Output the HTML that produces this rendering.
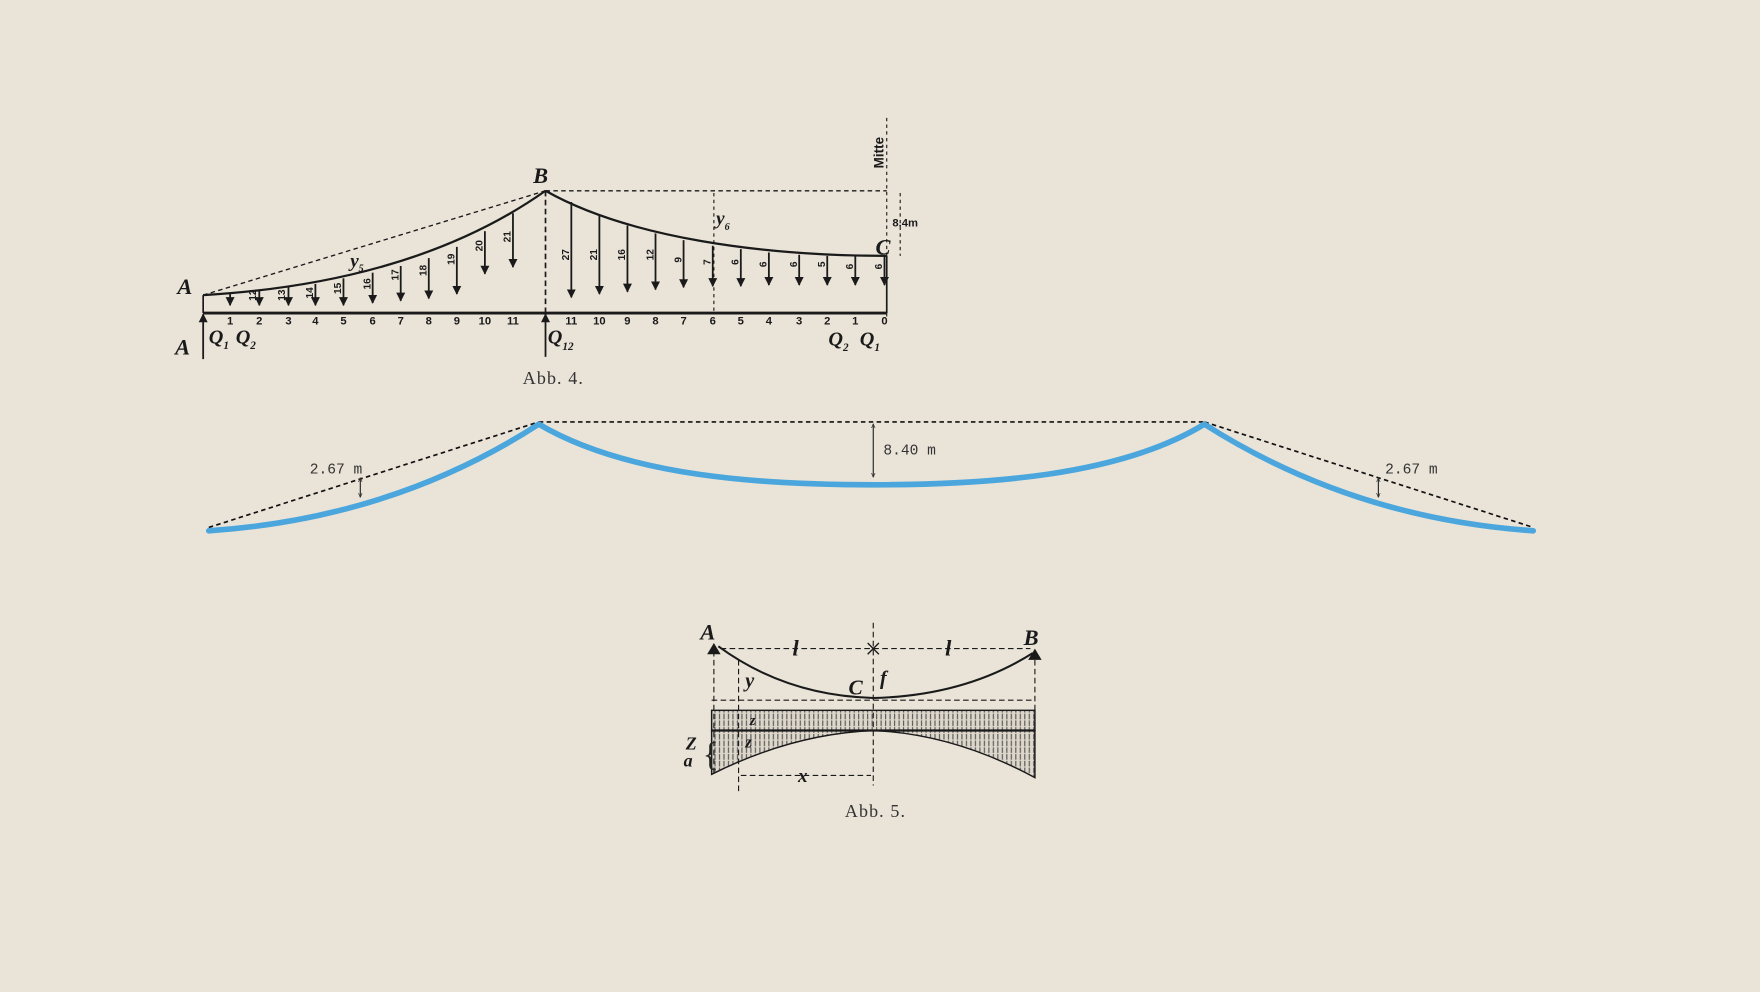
<!DOCTYPE html>
<html><head><meta charset="utf-8"><style>
html,body{margin:0;padding:0;background:#e9e3d8;}
svg{display:block}
.s{font-family:"Liberation Serif",serif;font-style:italic;font-weight:bold;fill:#1a1a1a}
.n{font-family:"Liberation Sans",sans-serif;font-weight:bold;fill:#1a1a1a}
.m{font-family:"Liberation Mono",monospace;fill:#333}
</style></head><body>
<svg width="1760" height="992" viewBox="0 0 1568 884" preserveAspectRatio="none" xmlns="http://www.w3.org/2000/svg">
<defs>
<marker id="ah" viewBox="0 0 10 10" refX="9" refY="5" markerWidth="5" markerHeight="6" orient="auto-start-reverse"><path d="M0,0 L10,5 L0,10 z" fill="#1a1a1a"/></marker>
<marker id="sa" viewBox="0 0 10 10" refX="9" refY="5" markerWidth="4" markerHeight="4" orient="auto-start-reverse"><path d="M0,1 L10,5 L0,9" fill="none" stroke="#333" stroke-width="1.5"/></marker>
<pattern id="hatch" width="4" height="6" patternUnits="userSpaceOnUse"><rect width="4" height="6" fill="#ddd6ca"/><line x1="1" y1="0" x2="1" y2="5" stroke="#555" stroke-width="1"/></pattern>
</defs>
<rect width="1568" height="884" fill="#e9e3d8"/>

<!-- Abb 4 -->
<g stroke="#1a1a1a" fill="none">
<line x1="790" y1="105" x2="790" y2="282" stroke-dasharray="3,3" stroke-width="1"/>
<line x1="486" y1="170" x2="790" y2="170" stroke-dasharray="4,3" stroke-width="1.2"/>
<line x1="181" y1="263" x2="486" y2="170" stroke-dasharray="4,3" stroke-width="1.2"/>
<line x1="486" y1="170" x2="486" y2="280" stroke-dasharray="5,3" stroke-width="1.5"/>
<path d="M181,263 Q370,252 486,170" stroke-width="2"/>
<path d="M486,170 C560,212 680,228 790,228" stroke-width="2"/>
<line x1="181" y1="279" x2="790" y2="279" stroke-width="2.5"/>
<line x1="181" y1="263" x2="181" y2="279" stroke-width="1.5"/>
<line x1="790" y1="228" x2="790" y2="279" stroke-width="1.5"/>
<line x1="636" y1="172" x2="636" y2="279" stroke-dasharray="3,3" stroke-width="1"/>
<line x1="802" y1="172" x2="802" y2="228" stroke-dasharray="3,3" stroke-width="1"/>
<g stroke-width="1.6" marker-end="url(#ah)">
<line x1="205" y1="262" x2="205" y2="272"/>
<line x1="231" y1="259" x2="231" y2="272"/>
<line x1="257" y1="256" x2="257" y2="272"/>
<line x1="281" y1="253" x2="281" y2="272"/>
<line x1="306" y1="248" x2="306" y2="272"/>
<line x1="332" y1="243" x2="332" y2="270"/>
<line x1="357" y1="237" x2="357" y2="268"/>
<line x1="382" y1="230" x2="382" y2="266"/>
<line x1="407" y1="220" x2="407" y2="262"/>
<line x1="432" y1="206" x2="432" y2="244"/>
<line x1="457" y1="190" x2="457" y2="238"/>
<line x1="509" y1="180" x2="509" y2="265"/>
<line x1="534" y1="192" x2="534" y2="262"/>
<line x1="559" y1="201" x2="559" y2="260"/>
<line x1="584" y1="208" x2="584" y2="258"/>
<line x1="609" y1="214" x2="609" y2="256"/>
<line x1="635" y1="219" x2="635" y2="255"/>
<line x1="660" y1="222" x2="660" y2="255"/>
<line x1="685" y1="225" x2="685" y2="254"/>
<line x1="712" y1="227" x2="712" y2="254"/>
<line x1="737" y1="228" x2="737" y2="254"/>
<line x1="762" y1="228" x2="762" y2="254"/>
<line x1="788" y1="228" x2="788" y2="254"/>
<line x1="181" y1="320" x2="181" y2="280"/>
<line x1="486" y1="318" x2="486" y2="280"/>
</g>
</g>
<g class="n" font-size="10" text-anchor="middle">
<text x="205" y="289">1</text><text x="231" y="289">2</text><text x="257" y="289">3</text><text x="281" y="289">4</text><text x="306" y="289">5</text><text x="332" y="289">6</text><text x="357" y="289">7</text><text x="382" y="289">8</text><text x="407" y="289">9</text><text x="432" y="289">10</text><text x="457" y="289">11</text>
<text x="509" y="289">11</text><text x="534" y="289">10</text><text x="559" y="289">9</text><text x="584" y="289">8</text><text x="609" y="289">7</text><text x="635" y="289">6</text><text x="660" y="289">5</text><text x="685" y="289">4</text><text x="712" y="289">3</text><text x="737" y="289">2</text><text x="762" y="289">1</text><text x="788" y="289">0</text>
</g>
<g class="n" font-size="9">
<text transform="translate(228,268) rotate(-90)">12</text>
<text transform="translate(254,268) rotate(-90)">13</text>
<text transform="translate(279,266) rotate(-90)">14</text>
<text transform="translate(304,262) rotate(-90)">15</text>
<text transform="translate(330,258) rotate(-90)">16</text>
<text transform="translate(355,250) rotate(-90)">17</text>
<text transform="translate(380,246) rotate(-90)">18</text>
<text transform="translate(405,236) rotate(-90)">19</text>
<text transform="translate(430,224) rotate(-90)">20</text>
<text transform="translate(455,216) rotate(-90)">21</text>
<text transform="translate(507,232) rotate(-90)">27</text>
<text transform="translate(532,232) rotate(-90)">21</text>
<text transform="translate(557,232) rotate(-90)">16</text>
<text transform="translate(582,232) rotate(-90)">12</text>
<text transform="translate(607,234) rotate(-90)">9</text>
<text transform="translate(633,236) rotate(-90)">7</text>
<text transform="translate(658,236) rotate(-90)">6</text>
<text transform="translate(683,238) rotate(-90)">6</text>
<text transform="translate(710,238) rotate(-90)">6</text>
<text transform="translate(735,238) rotate(-90)">5</text>
<text transform="translate(760,240) rotate(-90)">6</text>
<text transform="translate(786,240) rotate(-90)">6</text>
<text transform="translate(787,150) rotate(-90)" font-size="12">Mitte</text>
<text x="795" y="202" font-size="10">8.4m</text>
</g>
<g class="s">
<text x="475" y="163" font-size="20">B</text>
<text x="158" y="262" font-size="20">A</text>
<text x="780" y="227" font-size="20">C</text>
<text x="156" y="316" font-size="20">A</text>
<text x="186" y="306" font-size="18">Q<tspan font-size="10" dy="5">1</tspan></text>
<text x="210" y="306" font-size="18">Q<tspan font-size="10" dy="5">2</tspan></text>
<text x="488" y="306" font-size="18">Q<tspan font-size="10" dy="6">12</tspan></text>
<text x="738" y="308" font-size="18">Q<tspan font-size="10" dy="5">2</tspan></text>
<text x="766" y="308" font-size="18">Q<tspan font-size="10" dy="5">1</tspan></text>
<text x="638" y="200" font-size="17">y<tspan font-size="9" dy="5">6</tspan></text>
<text x="312" y="238" font-size="17">y<tspan font-size="9" dy="4">5</tspan></text>
</g>
<text x="493" y="342" text-anchor="middle" font-family="Liberation Serif,serif" font-size="16" fill="#333" letter-spacing="1">Abb. 4.</text>

<!-- blue diagram -->
<g fill="none" stroke="#111" stroke-width="1.5" stroke-dasharray="4,3">
<line x1="480" y1="376" x2="1073" y2="376"/>
<line x1="186" y1="470" x2="480" y2="376"/>
<line x1="1073" y1="376" x2="1366" y2="470"/>
</g>
<path d="M186,473 Q350,462 480,378 C560,425 680,432 778,432 C876,432 996,425 1073,378 Q1205,462 1366,473" fill="none" stroke="#4aa6dc" stroke-width="5" stroke-linejoin="round" stroke-linecap="round"/>
<g stroke="#222" stroke-width="1" marker-start="url(#sa)" marker-end="url(#sa)">
<line x1="778" y1="378" x2="778" y2="425"/>
<line x1="321" y1="426" x2="321" y2="443"/>
<line x1="1228" y1="426" x2="1228" y2="443"/>
</g>
<g class="m" font-size="13">
<text x="787" y="405">8.40 m</text>
<text x="276" y="422">2.67 m</text>
<text x="1234" y="422">2.67 m</text>
</g>

<!-- Abb 5 -->
<g stroke="#1a1a1a" fill="none">
<path d="M634,651 L778,651 L922,651 L922,693 Q850,654 778,651 Q706,654 634,690 Z" fill="url(#hatch)" stroke-width="1.3"/>
<rect x="634" y="633" width="288" height="18" fill="url(#hatch)" stroke-width="1.3"/>
<line x1="634" y1="651" x2="922" y2="651" stroke-width="2"/>
<path d="M640,576 Q700,620 778,622 Q860,620 920,582" stroke-width="1.8"/>
<g stroke-dasharray="5,3" stroke-width="1">
<line x1="642" y1="578" x2="918" y2="578"/>
<line x1="778" y1="555" x2="778" y2="700"/>
<line x1="634" y1="624" x2="922" y2="624"/>
<line x1="636" y1="580" x2="636" y2="690"/>
<line x1="922" y1="588" x2="922" y2="693"/>
<line x1="658" y1="588" x2="658" y2="705"/>
<line x1="660" y1="691" x2="776" y2="691"/>
</g>
</g>
<path d="M630,583 L636,573 L642,583 Z M916,588 L922,578 L928,588 Z" fill="#1a1a1a"/>
<path d="M773,573 L783,583 M783,573 L773,583" stroke="#1a1a1a" stroke-width="1.2"/>
<g class="s">
<text x="624" y="570" font-size="20">A</text>
<text x="912" y="575" font-size="20">B</text>
<text x="706" y="584" font-size="20">l</text>
<text x="842" y="584" font-size="20">l</text>
<text x="756" y="619" font-size="19">C</text>
<text x="784" y="610" font-size="18">f</text>
<text x="664" y="612" font-size="18">y</text>
<text x="668" y="646" font-size="13">z</text>
<text x="664" y="666" font-size="15">z</text>
<text x="611" y="668" font-size="16">Z</text>
<text x="609" y="683" font-size="16">a</text>
<text x="711" y="697" font-size="17">x</text>
</g>
<text x="626" y="682" font-family="Liberation Serif,serif" font-size="30" fill="#222">{</text>
<text x="780" y="728" text-anchor="middle" font-family="Liberation Serif,serif" font-size="16" fill="#333" letter-spacing="1">Abb. 5.</text>
</svg>
</body></html>
